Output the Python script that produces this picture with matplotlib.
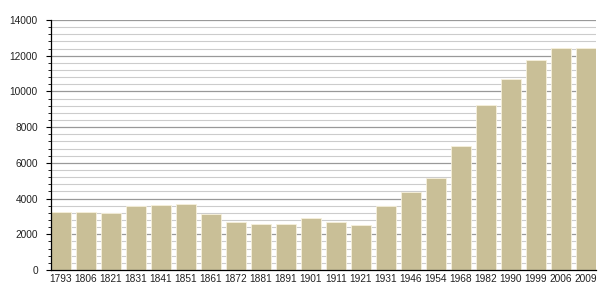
import matplotlib
matplotlib.use("Agg")
import matplotlib.pyplot as plt
from matplotlib.ticker import MultipleLocator

years = ["1793", "1806", "1821", "1831", "1841", "1851", "1861", "1872", "1881", "1891", "1901",
         "1911", "1921", "1931", "1946", "1954", "1968", "1982", "1990", "1999", "2006", "2009"]
population = [3270, 3250, 3190, 3580, 3640, 3700, 3150, 2705, 2595, 2595, 2930,
              2705, 2540, 3580, 4370, 5150, 6940, 9240, 10710, 11760, 12430, 12430]

plt.rcParams['font.family'] = ['Liberation Sans', 'DejaVu Sans']

fig = plt.figure(figsize=(6.05, 3.0), dpi=100)
ax = fig.add_axes([0.0835, 0.1, 0.9015, 0.8333])

x = list(range(len(years)))
ax.bar(x, population, width=0.82, color="#c9bf97", edgecolor="#f7f1dc", linewidth=0.6, zorder=3)

ax.set_xlim(-0.42, len(years) - 0.6)
ax.set_ylim(0, 14000)
ax.yaxis.set_major_locator(MultipleLocator(2000))
ax.yaxis.set_minor_locator(MultipleLocator(400))
ax.grid(which="minor", axis="y", color="#cccccc", linewidth=0.8, zorder=0)
ax.grid(which="major", axis="y", color="#999999", linewidth=0.9, zorder=1)

ax.set_xticks(x)
ax.set_xticklabels(years)
ax.tick_params(axis="x", length=0, pad=3, labelsize=7.3, colors="#222222")
ax.tick_params(axis="y", which="major", length=3.6, width=0.8, pad=5.5, labelsize=7.3, labelcolor="#222222")
ax.tick_params(axis="y", which="minor", length=2.2, width=0.6)

for s in ["top", "right"]:
    ax.spines[s].set_visible(False)
ax.spines["left"].set_linewidth(0.9)
ax.spines["bottom"].set_linewidth(0.9)
ax.spines["left"].set_zorder(4)
ax.spines["bottom"].set_zorder(4)

fig.savefig("out.png", dpi=100)
